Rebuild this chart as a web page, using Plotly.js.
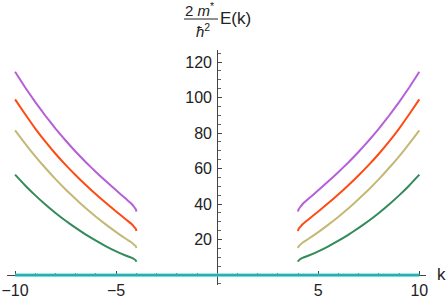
<!DOCTYPE html>
<html>
<head>
<meta charset="utf-8">
<script src="https://cdn.plot.ly/plotly-3.0.1.min.js"></script>
<style>html,body{margin:0;padding:0;background:#fff;}#plot{width:447px;height:300px;}</style>
</head>
<body>
<div id="plot"></div>
<script>
// k values (right branch, mirrored for the left branch)
var kVals = [4, 4.02, 4.1, 4.25, 4.5, 5, 5.5, 6, 6.5, 7, 7.5, 8, 8.5, 9, 9.5, 10];
// band energies (2m*/hbar^2 E)
var band1 = [7.5, 8.2, 8.9, 9.8, 10.9, 13.35, 16.2, 19.35, 22.8, 26.55, 30.6, 35.0, 39.75, 44.9, 50.5, 56.6];      // green
var band2 = [15.2, 16.1, 17.0, 18.5, 20.3, 24.2, 28.4, 32.9, 37.7, 42.8, 48.25, 54.05, 60.3, 66.9, 74.0, 81.5];  // tan
var band3 = [24.8, 25.9, 27.0, 28.9, 31.2, 35.8, 40.55, 45.5, 50.7, 56.2, 62.05, 68.35, 75.15, 82.55, 90.6, 99.0]; // orange
var band4 = [35.7, 36.9, 38.2, 40.3, 42.8, 47.75, 52.8, 58.05, 63.6, 69.5, 75.8, 82.55, 89.75, 97.45, 105.7, 114.5]; // purple
var flatK = [-10, 10];
var flatE = [0, 0];

var xTickVals = [-10, -5, 5, 10];
var xTickText = ['\u221210', '\u22125', '5', '10'];
var yTickVals = [20, 40, 60, 80, 100, 120];
var yTickText = ['20', '40', '60', '80', '100', '120'];

function mirrored(ks, es) {
  var x = [], y = [];
  for (var i = ks.length - 1; i >= 0; i--) { x.push(-ks[i]); y.push(es[i]); }
  x.push(null); y.push(null);
  for (var j = 0; j < ks.length; j++) { x.push(ks[j]); y.push(es[j]); }
  return {x: x, y: y};
}

var colors = ['#338a5a', '#c4b874', '#ff4a12', '#b65fd8'];
var bands = [band1, band2, band3, band4];
var traces = [];
traces.push({x: flatK, y: flatE, mode: 'lines', line: {color: '#3fd6d6', width: 3.2}, hoverinfo: 'skip'});
traces.push({x: flatK, y: flatE, mode: 'lines', line: {color: '#1f8585', width: 1}, hoverinfo: 'skip'});
for (var b = 0; b < bands.length; b++) {
  var m = mirrored(kVals, bands[b]);
  traces.push({x: m.x, y: m.y, mode: 'lines', connectgaps: false,
    line: {color: colors[b], width: 2, shape: 'spline', smoothing: 0.4}, hoverinfo: 'skip'});
}

// plot area geometry in pixels
var L = 7, R = 21, T = 50, B = 15, W = 447, H = 300;
var xr = [-10.4, 10.33], yr = [-5.6, 126.8];
function px(xp) { return (xp - L) / (W - L - R); }
function py(yp) { return (H - B - yp) / (H - T - B); }

var tf = {family: 'Liberation Sans, Arial, Helvetica, sans-serif', size: 16, color: '#222'};
var axisCommon = {
  showgrid: false, zeroline: false, showline: true, linecolor: '#444', linewidth: 1,
  ticks: 'inside', ticklen: 4, tickcolor: '#444', tickwidth: 1, tickfont: tf,
  tickmode: 'array', layer: 'below traces', fixedrange: true
};

var layout = {
  width: W, height: H,
  margin: {l: L, r: R, t: T, b: B, pad: 0},
  paper_bgcolor: '#fff', plot_bgcolor: '#fff',
  showlegend: false,
  xaxis: Object.assign({}, axisCommon, {
    range: xr, anchor: 'free', position: (0 - yr[0]) / (yr[1] - yr[0]),
    tickvals: xTickVals, ticktext: xTickText, ticklabelstandoff: 1,
    minor: {tickmode: 'linear', tick0: 0, dtick: 1, ticks: 'inside', ticklen: 2.5, tickcolor: '#666', tickwidth: 1}
  }),
  yaxis: Object.assign({}, axisCommon, {
    range: yr, anchor: 'free', position: (0 - xr[0]) / (xr[1] - xr[0]),
    tickvals: yTickVals, ticktext: yTickText, ticklabelstandoff: 2,
    minor: {tickmode: 'linear', tick0: 0, dtick: 5, ticks: 'inside', ticklen: 2.5, tickcolor: '#666', tickwidth: 1}
  }),
  annotations: [
    {xref: 'paper', yref: 'paper', x: px(441), y: py(274), text: 'k', showarrow: false,
     xanchor: 'center', yanchor: 'middle', font: {family: tf.family, size: 17, color: '#222'}},
    {xref: 'paper', yref: 'paper', x: px(199), y: py(10), text: '2 <i>m</i><sup>*</sup>', showarrow: false,
     xanchor: 'center', yanchor: 'middle', font: {family: tf.family, size: 15, color: '#222'}},
    {xref: 'paper', yref: 'paper', x: px(203), y: py(30), text: '<i>ħ</i><sup>2</sup>', showarrow: false,
     xanchor: 'center', yanchor: 'middle', font: {family: tf.family, size: 15, color: '#222'}},
    {xref: 'paper', yref: 'paper', x: px(218), y: py(18), text: 'E(k)', showarrow: false,
     xanchor: 'left', yanchor: 'middle', font: {family: tf.family, size: 17, color: '#222'}}
  ],
  shapes: [
    {type: 'line', xref: 'paper', yref: 'paper', x0: px(184), x1: px(218), y0: py(19), y1: py(19),
     line: {color: '#222', width: 1}}
  ]
};

Plotly.newPlot('plot', traces, layout, {displayModeBar: false, staticPlot: true});
</script>
</body>
</html>
